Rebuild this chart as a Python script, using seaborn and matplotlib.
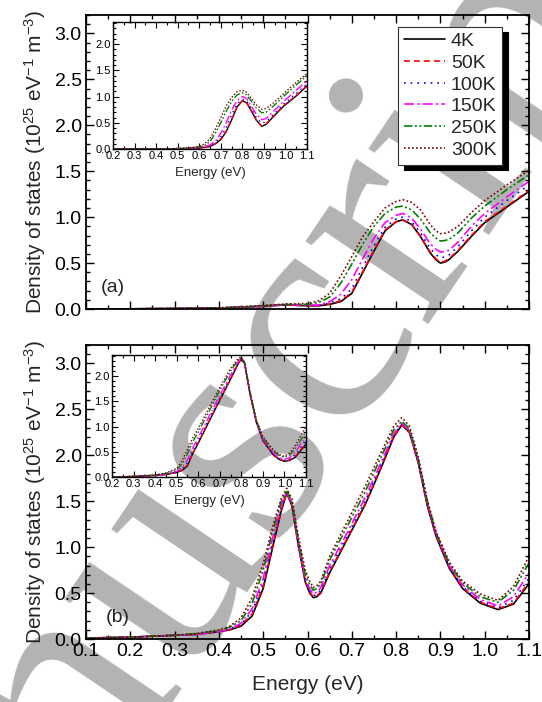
import matplotlib
matplotlib.use("Agg")
import matplotlib.pyplot as plt
from matplotlib.ticker import MultipleLocator, FormatStrFormatter
import seaborn as sns
import pandas as pd

# ---------------- data ----------------
temps = ["4K", "50K", "100K", "150K", "250K", "300K"]

energy_a = [0.1, 0.2, 0.3, 0.4, 0.45, 0.5, 0.55, 0.6, 0.625, 0.65, 0.675, 0.7, 0.725, 0.75,
            0.775, 0.8, 0.815, 0.835, 0.855, 0.877, 0.89, 0.9, 0.91, 0.92, 0.94, 0.97, 1.0,
            1.05, 1.1]
a_4K = [0.0, 0.002, 0.005, 0.01, 0.02, 0.03, 0.045, 0.035, 0.035, 0.05, 0.08, 0.17, 0.40, 0.63,
        0.85, 0.95, 0.97, 0.92, 0.79, 0.61, 0.535, 0.50, 0.51, 0.54, 0.63, 0.79, 0.94,
        1.11, 1.28]
a_50K = [0.0, 0.002, 0.005, 0.01, 0.02, 0.03, 0.045, 0.035, 0.036, 0.055, 0.09, 0.18, 0.41, 0.64,
         0.86, 0.95, 0.97, 0.92, 0.79, 0.62, 0.545, 0.51, 0.52, 0.55, 0.64, 0.8, 0.95,
         1.12, 1.29]
a_100K = [0.0, 0.002, 0.005, 0.01, 0.02, 0.03, 0.045, 0.036, 0.04, 0.065, 0.11, 0.22, 0.46, 0.69,
          0.89, 0.98, 1.0, 0.95, 0.83, 0.66, 0.59, 0.56, 0.565, 0.59, 0.68, 0.85, 1.0,
          1.18, 1.35]
a_150K = [0.0, 0.002, 0.005, 0.01, 0.02, 0.032, 0.047, 0.04, 0.045, 0.08, 0.16, 0.32, 0.55, 0.77,
          0.94, 1.02, 1.04, 0.99, 0.87, 0.71, 0.65, 0.62, 0.625, 0.64, 0.73, 0.9, 1.04,
          1.22, 1.39]
a_250K = [0.0, 0.002, 0.006, 0.012, 0.022, 0.035, 0.05, 0.05, 0.07, 0.13, 0.28, 0.49, 0.71, 0.9,
          1.04, 1.11, 1.12, 1.08, 0.98, 0.83, 0.77, 0.74, 0.745, 0.76, 0.83, 0.99, 1.12,
          1.3, 1.46]
a_300K = [0.0, 0.002, 0.006, 0.013, 0.024, 0.038, 0.055, 0.06, 0.09, 0.17, 0.36, 0.57, 0.79, 0.95,
          1.1, 1.17, 1.19, 1.16, 1.08, 0.92, 0.85, 0.82, 0.825, 0.84, 0.9, 1.05, 1.18,
          1.35, 1.51]

energy_ia = [0.2, 0.3, 0.4, 0.5, 0.55, 0.6, 0.625, 0.65, 0.675, 0.7, 0.725, 0.75, 0.775, 0.8,
             0.82, 0.84, 0.865, 0.89, 0.91, 0.945, 0.99, 1.05, 1.1]
ia_4K = [0.0, 0.0, 0.0, 0.005, 0.01, 0.02, 0.03, 0.05, 0.1, 0.18, 0.33, 0.55, 0.8, 0.92,
         0.88, 0.74, 0.55, 0.43, 0.47, 0.62, 0.81, 1.01, 1.2]
ia_50K = [0.0, 0.0, 0.0, 0.005, 0.01, 0.02, 0.03, 0.05, 0.1, 0.19, 0.34, 0.56, 0.8, 0.92,
          0.88, 0.74, 0.55, 0.44, 0.48, 0.63, 0.82, 1.02, 1.21]
ia_100K = [0.0, 0.0, 0.0, 0.005, 0.01, 0.025, 0.035, 0.06, 0.12, 0.23, 0.41, 0.65, 0.86, 0.95,
           0.92, 0.78, 0.6, 0.49, 0.52, 0.66, 0.85, 1.06, 1.24]
ia_150K = [0.0, 0.0, 0.0, 0.006, 0.012, 0.03, 0.04, 0.08, 0.15, 0.3, 0.5, 0.74, 0.92, 1.0,
           0.96, 0.83, 0.66, 0.56, 0.58, 0.72, 0.9, 1.12, 1.3]
ia_250K = [0.0, 0.0, 0.0, 0.008, 0.015, 0.04, 0.07, 0.14, 0.3, 0.5, 0.72, 0.9, 1.03, 1.07,
           1.03, 0.92, 0.78, 0.69, 0.7, 0.82, 1.0, 1.22, 1.4]
ia_300K = [0.0, 0.0, 0.0, 0.01, 0.02, 0.05, 0.1, 0.2, 0.38, 0.6, 0.82, 0.98, 1.09, 1.12,
           1.08, 0.97, 0.84, 0.76, 0.77, 0.88, 1.05, 1.27, 1.44]

energy_b = [0.1, 0.2, 0.3, 0.35, 0.4, 0.425, 0.45, 0.475, 0.5, 0.52, 0.54, 0.553, 0.565, 0.58,
            0.595, 0.605, 0.613, 0.621, 0.63, 0.65, 0.69, 0.73, 0.765, 0.795, 0.813, 0.83,
            0.85, 0.87, 0.89, 0.92, 0.95, 0.99, 1.03, 1.065, 1.1]
b_4K = [0.01, 0.02, 0.04, 0.05, 0.08, 0.1, 0.14, 0.25, 0.55, 0.97, 1.38, 1.59, 1.45, 1.0,
        0.62, 0.5, 0.45, 0.46, 0.5, 0.72, 1.09, 1.46, 1.85, 2.2, 2.33, 2.25,
        1.92, 1.46, 1.12, 0.77, 0.55, 0.39, 0.32, 0.38, 0.6]
b_50K = [0.01, 0.02, 0.04, 0.05, 0.08, 0.1, 0.15, 0.27, 0.57, 0.99, 1.39, 1.59, 1.45, 1.0,
         0.63, 0.51, 0.46, 0.47, 0.51, 0.73, 1.1, 1.47, 1.86, 2.21, 2.33, 2.25,
         1.92, 1.47, 1.13, 0.78, 0.56, 0.4, 0.33, 0.39, 0.62]
b_100K = [0.01, 0.02, 0.04, 0.05, 0.08, 0.11, 0.16, 0.3, 0.61, 1.03, 1.42, 1.6, 1.46, 1.01,
          0.64, 0.52, 0.47, 0.485, 0.53, 0.76, 1.13, 1.5, 1.88, 2.22, 2.34, 2.26,
          1.93, 1.48, 1.14, 0.79, 0.57, 0.41, 0.34, 0.42, 0.66]
b_150K = [0.01, 0.02, 0.04, 0.05, 0.08, 0.11, 0.17, 0.33, 0.66, 1.08, 1.45, 1.6, 1.47, 1.03,
          0.66, 0.545, 0.49, 0.51, 0.56, 0.8, 1.16, 1.54, 1.91, 2.24, 2.35, 2.27,
          1.94, 1.49, 1.15, 0.8, 0.59, 0.43, 0.36, 0.46, 0.72]
b_250K = [0.01, 0.02, 0.04, 0.06, 0.09, 0.13, 0.2, 0.39, 0.75, 1.15, 1.49, 1.62, 1.49, 1.06,
          0.7, 0.59, 0.53, 0.55, 0.6, 0.86, 1.23, 1.6, 1.97, 2.28, 2.37, 2.29,
          1.96, 1.51, 1.16, 0.82, 0.61, 0.46, 0.4, 0.53, 0.83]
b_300K = [0.01, 0.02, 0.04, 0.06, 0.1, 0.14, 0.23, 0.45, 0.82, 1.2, 1.52, 1.64, 1.52, 1.1,
          0.75, 0.63, 0.56, 0.58, 0.63, 0.9, 1.28, 1.66, 2.02, 2.32, 2.41, 2.32,
          1.98, 1.52, 1.17, 0.84, 0.63, 0.49, 0.42, 0.57, 0.9]

energy_ib = [0.2, 0.3, 0.4, 0.45, 0.5, 0.525, 0.55, 0.575, 0.6, 0.65, 0.7, 0.75, 0.785, 0.8,
             0.815, 0.84, 0.87, 0.9, 0.95, 0.975, 1.0, 1.025, 1.05, 1.1]
ib_4K = [0.0, 0.01, 0.03, 0.05, 0.09, 0.13, 0.22, 0.47, 0.67, 1.1, 1.52, 1.94, 2.24, 2.35,
         2.25, 1.65, 1.08, 0.72, 0.43, 0.35, 0.31, 0.33, 0.39, 0.65]
ib_50K = [0.0, 0.01, 0.03, 0.05, 0.09, 0.14, 0.24, 0.48, 0.68, 1.11, 1.53, 1.95, 2.25, 2.35,
          2.25, 1.66, 1.09, 0.73, 0.44, 0.36, 0.32, 0.34, 0.41, 0.67]
ib_100K = [0.0, 0.01, 0.03, 0.06, 0.1, 0.16, 0.28, 0.52, 0.72, 1.15, 1.57, 1.98, 2.27, 2.35,
           2.25, 1.66, 1.09, 0.73, 0.45, 0.37, 0.33, 0.36, 0.44, 0.72]
ib_150K = [0.0, 0.01, 0.03, 0.06, 0.11, 0.19, 0.34, 0.58, 0.78, 1.2, 1.62, 2.02, 2.29, 2.36,
           2.26, 1.67, 1.1, 0.75, 0.47, 0.39, 0.35, 0.39, 0.49, 0.8]
ib_250K = [0.0, 0.01, 0.04, 0.07, 0.14, 0.26, 0.46, 0.7, 0.89, 1.3, 1.72, 2.1, 2.33, 2.37,
           2.27, 1.69, 1.12, 0.78, 0.51, 0.43, 0.39, 0.44, 0.56, 0.9]
ib_300K = [0.0, 0.01, 0.04, 0.08, 0.17, 0.32, 0.55, 0.78, 0.96, 1.37, 1.78, 2.15, 2.35, 2.38,
           2.28, 1.7, 1.13, 0.8, 0.53, 0.45, 0.41, 0.48, 0.62, 1.0]

watermark = "nuscript"

# ---------------- styles ----------------
colors = ["#000000", "#FF0000", "#0000FF", "#FF00FF", "#008000", "#800000"]
styles = ["-", (0, (3.5, 2.5)), (0, (1, 3)), (0, (6, 2, 1.2, 2)),
          (0, (5, 1.5, 1.2, 1.5, 1.2, 1.5)), (0, (1, 1.4))]

sns.set_style("ticks")
plt.rcParams["font.family"] = ["Liberation Sans", "DejaVu Sans"]
plt.rcParams["mathtext.default"] = "regular"

fig = plt.figure(figsize=(5.42, 7.02), dpi=100)

W, H = 542.0, 702.0

# watermark behind the (transparent) axes
fig.text(318 / W, 1 - 338 / H, watermark, rotation=56, rotation_mode="anchor",
         ha="center", va="center", fontsize=232, color="#b3b3b3",
         family=["Liberation Serif", "DejaVu Serif"], zorder=-5)


def px_axes(left, top, right, bottom):
    ax = fig.add_axes([left / W, 1 - bottom / H, (right - left) / W, (bottom - top) / H])
    ax.set_facecolor("none")
    return ax


def draw(ax, energy, series, lw):
    for lab, vals, c, ls in zip(temps, series, colors, styles):
        df = pd.DataFrame({"E": energy, "D": vals})
        sns.lineplot(data=df, x="E", y="D", ax=ax, color=c, linestyle=ls, lw=lw,
                     label=lab, legend=False, sort=False)
    ax.set_xlabel("")
    ax.set_ylabel("")


def style_main(ax, show_xlabels):
    ax.set_xlim(0.1, 1.1)
    ax.set_ylim(0, 3.2)
    ax.xaxis.set_major_locator(MultipleLocator(0.1))
    ax.xaxis.set_minor_locator(MultipleLocator(0.05))
    ax.yaxis.set_major_locator(MultipleLocator(0.5))
    ax.yaxis.set_minor_locator(MultipleLocator(0.1))
    ax.xaxis.set_major_formatter(FormatStrFormatter("%.1f"))
    ax.yaxis.set_major_formatter(FormatStrFormatter("%.1f"))
    ax.tick_params(which="both", direction="in", top=True, right=True, width=1.0, colors="black")
    ax.tick_params(which="major", length=6, labelsize=14, pad=3)
    ax.tick_params(which="minor", length=3)
    if not show_xlabels:
        ax.tick_params(axis="x", labelbottom=False)
    for s in ax.spines.values():
        s.set_linewidth(1.3)
        s.set_color("black")
    ax.set_ylabel("Density of states (10$^{25}$ eV$^{-1}$ m$^{-3}$)", fontsize=15, labelpad=5)


def style_inset(ax):
    ax.set_xlim(0.2, 1.1)
    ax.set_ylim(0, 2.42)
    ax.xaxis.set_major_locator(MultipleLocator(0.1))
    ax.xaxis.set_minor_locator(MultipleLocator(0.05))
    ax.yaxis.set_major_locator(MultipleLocator(0.5))
    ax.yaxis.set_minor_locator(MultipleLocator(0.1))
    ax.xaxis.set_major_formatter(FormatStrFormatter("%.1f"))
    ax.yaxis.set_major_formatter(FormatStrFormatter("%.1f"))
    ax.tick_params(which="both", direction="in", top=True, right=True, width=0.8, colors="black")
    ax.tick_params(which="major", length=4, labelsize=8, pad=1.5)
    ax.tick_params(which="minor", length=2)
    for s in ax.spines.values():
        s.set_linewidth(1.0)
        s.set_color("black")
    ax.set_xlabel("Energy (eV)", fontsize=9.5, labelpad=4)


# ---- panel (a)
ax_a = px_axes(86, 15, 529, 309)
draw(ax_a, energy_a, [a_4K, a_50K, a_100K, a_150K, a_250K, a_300K], 1.2)
style_main(ax_a, False)
ax_a.text(0.033, 0.045, "(a)", transform=ax_a.transAxes, fontsize=14, ha="left", va="bottom")
handles, labels = ax_a.get_legend_handles_labels()
leg = ax_a.legend(handles, labels, loc="upper right", bbox_to_anchor=(0.94, 0.96),
                  borderaxespad=0, fontsize=14, frameon=True, fancybox=False,
                  edgecolor="#333333", framealpha=1, labelspacing=0.21, handlelength=2.1,
                  handletextpad=0.3, borderpad=0.3,
                  shadow={"color": "black", "alpha": 1, "ox": 4, "oy": -4})
leg.get_frame().set_linewidth(0.8)

# inset (a)
ax_ia = px_axes(113, 22, 307, 149)
draw(ax_ia, energy_ia, [ia_4K, ia_50K, ia_100K, ia_150K, ia_250K, ia_300K], 1.0)
style_inset(ax_ia)

# ---- panel (b)
ax_b = px_axes(86, 345, 529, 639)
draw(ax_b, energy_b, [b_4K, b_50K, b_100K, b_150K, b_250K, b_300K], 1.2)
style_main(ax_b, True)
ax_b.set_xlabel("Energy (eV)", fontsize=15, labelpad=11)
ax_b.text(0.045, 0.045, "(b)", transform=ax_b.transAxes, fontsize=14, ha="left", va="bottom")

# inset (b)
ax_ib = px_axes(112, 355, 306, 477)
draw(ax_ib, energy_ib, [ib_4K, ib_50K, ib_100K, ib_150K, ib_250K, ib_300K], 1.0)
style_inset(ax_ib)

fig.savefig("out.png", dpi=100)
